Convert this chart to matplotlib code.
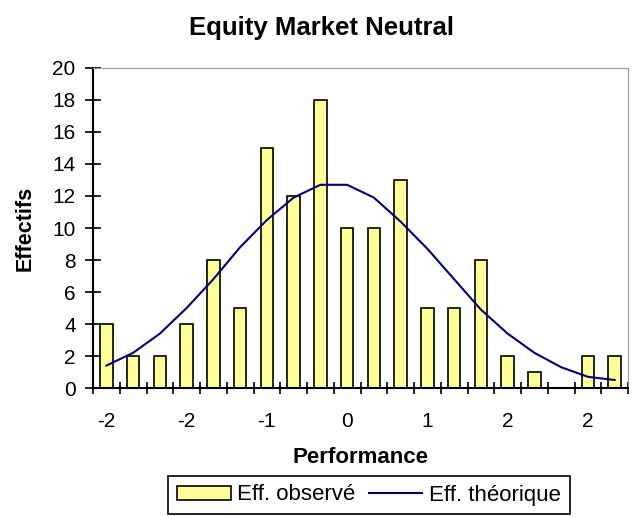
import matplotlib.pyplot as plt
from matplotlib.patches import Patch
from matplotlib.lines import Line2D

plt.rcParams['font.family'] = ['Liberation Sans', 'DejaVu Sans']

# classes de performance (affichées une sur trois)
classes = ["-2", "-2", "-2", "-2", "-2", "-2", "-1", "-1", "-1", "0",
           "0", "0", "1", "1", "1", "2", "2", "2", "2", "2"]
observe = [4, 2, 2, 4, 8, 5, 15, 12, 18, 10, 10, 13, 5, 5, 8, 2, 1, 0, 2, 2]
theorique = [1.4, 2.2, 3.4, 5.0, 6.8, 8.8, 10.5, 11.9, 12.7, 12.7,
             11.9, 10.4, 8.7, 6.8, 4.9, 3.4, 2.2, 1.3, 0.7, 0.5]

fig = plt.figure(figsize=(6.43, 5.17), dpi=100)
ax = fig.add_axes([93/643, 1-388/517, 535/643, 320/517])

x = list(range(len(classes)))
ax.bar(x, observe, width=0.46, color="#FFFF99", edgecolor="black", linewidth=1.2)
ax.plot(x, theorique, color="#000080", linewidth=1.5)

ax.set_xlim(-0.5, len(classes) - 0.5)
ax.set_ylim(0, 20)
ax.set_yticks(range(0, 21, 2))
ax.set_xticks([i for i in x if i % 3 == 0])
ax.set_xticklabels([classes[i] for i in x if i % 3 == 0])
ax.set_xticks([i - 0.5 for i in range(len(classes) + 1)], minor=True)
ax.tick_params(axis="x", which="major", length=0, pad=17, labelsize=15)
ax.tick_params(axis="x", which="minor", direction="inout", length=9, width=1.2)
ax.tick_params(axis="y", direction="inout", length=11, width=1.2, pad=7, labelsize=15)

for s in ["top", "right"]:
    ax.spines[s].set_color("#999999")
for s in ["left", "bottom"]:
    ax.spines[s].set_linewidth(1.5)

ax.set_xlabel("Performance", fontsize=16, fontweight="bold", labelpad=12)
ax.set_ylabel("Effectifs", fontsize=15.5, fontweight="bold", labelpad=12)
fig.text(0.5, 1 - 28/517, "Equity Market Neutral", ha="center", va="center",
         fontsize=18.5, fontweight="bold")

handles = [Patch(facecolor="#FFFF99", edgecolor="black", linewidth=1.2),
           Line2D([0], [0], color="#000080", linewidth=1.5)]
leg = fig.legend(handles, ["Eff. observé", "Eff. théorique"], loc="center",
                 bbox_to_anchor=(369/643, 1 - 495/517), ncol=2, fontsize=16,
                 fancybox=False, edgecolor="black", framealpha=1,
                 handlelength=2.4, handleheight=0.6, handletextpad=0.3,
                 columnspacing=0.6, borderpad=0.4)
leg.get_frame().set_linewidth(1.2)

fig.savefig("out.png", dpi=100)
